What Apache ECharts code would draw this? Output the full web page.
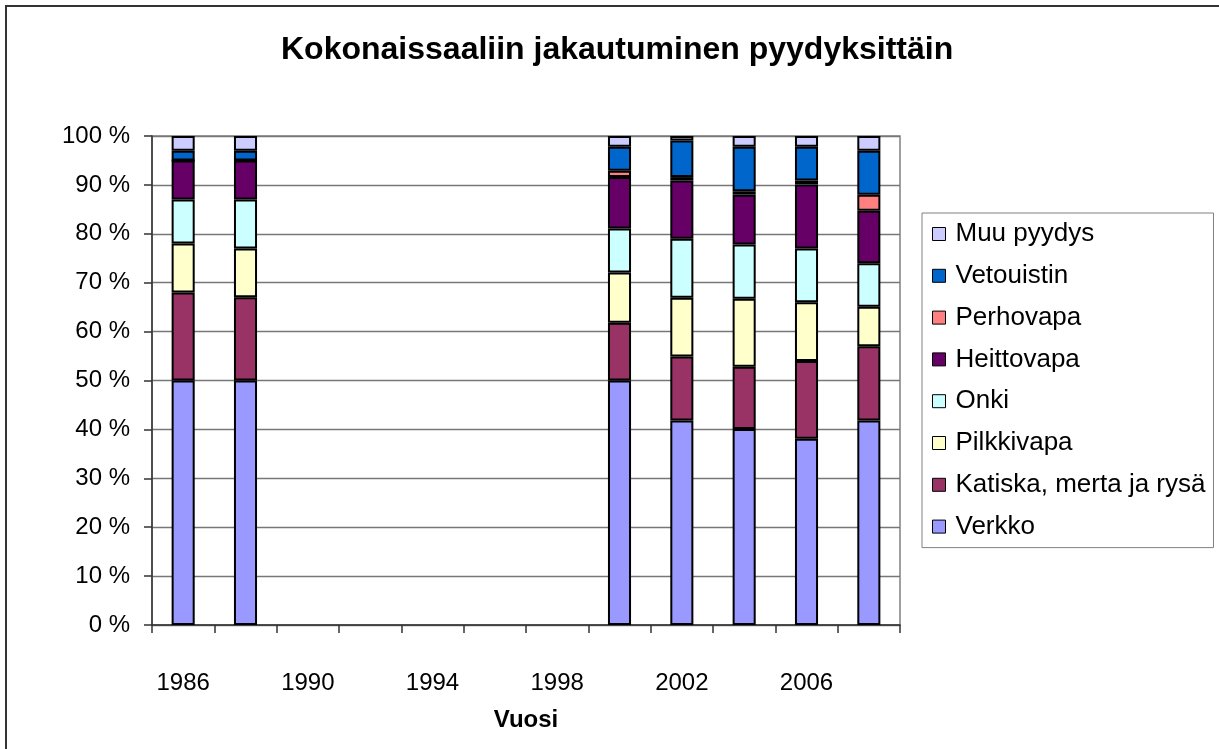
<!DOCTYPE html>
<html>
<head>
<meta charset="utf-8">
<title>Kokonaissaaliin jakautuminen pyydyksittäin</title>
<script src="https://cdn.jsdelivr.net/npm/echarts@6/dist/echarts.min.js"></script>
<style>
  html, body { margin: 0; padding: 0; background: #fff; }
  #main { width: 1219px; height: 749px; }
</style>
</head>
<body>
<div id="main"></div>
<script>
// vuodet (joka toinen vuosi), puuttuvat vuodet = null
var years = ['1986', '1988', '1990', '1992', '1994', '1996', '1998', '2000', '2002', '2004', '2006', '2008'];

var verkko     = [50, 50, null, null, null, null, null, 50, 41.8, 40.1, 38.1, 41.8];
var katiska    = [18, 17, null, null, null, null, null, 11.8, 13.1, 12.7, 15.9, 15.2];
var pilkkivapa = [10, 10, null, null, null, null, null, 10.3, 12.0, 13.9, 12.0, 8.1];
var onki       = [9, 10, null, null, null, null, null, 9.0, 12.1, 11.1, 11.0, 8.9];
var heittovapa = [8, 8, null, null, null, null, null, 10.5, 11.9, 10.2, 13.1, 10.7];
var perhovapa  = [0, 0, null, null, null, null, null, 1.3, 0.7, 0.7, 0.8, 3.3];
var vetouistin = [2, 2, null, null, null, null, null, 4.9, 7.5, 9.1, 6.9, 9.0];
var muu        = [3, 3, null, null, null, null, null, 2.2, 0.9, 2.2, 2.2, 3.0];

var names = ['Verkko', 'Katiska, merta ja rysä', 'Pilkkivapa', 'Onki', 'Heittovapa', 'Perhovapa', 'Vetouistin', 'Muu pyydys'];
var values = [verkko, katiska, pilkkivapa, onki, heittovapa, perhovapa, vetouistin, muu];
var colors = ['#9999FF', '#993366', '#FFFFCC', '#CCFFFF', '#660066', '#FF8080', '#0066CC', '#CCCCFF'];

var yTicks = [0, 10, 20, 30, 40, 50, 60, 70, 80, 90, 100];

var font = '"Liberation Sans", Arial, sans-serif';

var chart = echarts.init(document.getElementById('main'));

var series = names.map(function (n, i) {
    return {
        name: n,
        type: 'bar',
        stack: 'total',
        barWidth: '37%',
        data: values[i],
        itemStyle: {
            color: colors[i],
            borderColor: '#000',
            borderWidth: 2
        }
    };
});

var option = {
    animation: false,
    backgroundColor: '#fff',
    textStyle: { fontFamily: font, color: '#000' },
    title: {
        text: 'Kokonaissaaliin jakautuminen pyydyksittäin',
        left: 281,
        top: 34,
        padding: 0,
        textStyle: { fontFamily: font, fontSize: 32, fontWeight: 'bold', color: '#000' }
    },
    legend: {
        orient: 'vertical',
        left: 922,
        top: 213,
        padding: [8, 8, 8, 10],
        borderColor: '#808080',
        borderWidth: 1,
        icon: 'rect',
        itemWidth: 13,
        itemHeight: 13,
        itemGap: 15.8,
        itemStyle: { borderColor: '#000', borderWidth: 1 },
        data: names.slice().reverse(),
        textStyle: {
            fontFamily: font,
            fontSize: 26,
            lineHeight: 25,
            color: '#000',
            padding: [0, 0, 0, 5]
        }
    },
    graphic: [{
        type: 'rect',
        shape: { x: 6, y: 6, width: 1300, height: 900 },
        style: { fill: 'none', stroke: '#333', lineWidth: 2 },
        silent: true
    }],
    grid: {
        left: 152,
        right: 319,
        top: 136,
        bottom: 124,
        show: true,
        borderColor: '#808080',
        borderWidth: 1.5
    },
    xAxis: {
        type: 'category',
        data: years,
        name: 'Vuosi',
        nameLocation: 'middle',
        nameGap: 83,
        nameTextStyle: { fontFamily: font, fontSize: 24, fontWeight: 'bold', color: '#000' },
        axisLine: { lineStyle: { color: '#333', width: 1.5 } },
        axisTick: { show: true, interval: 0, length: 8, lineStyle: { color: '#333', width: 1.5 } },
        axisLabel: { interval: 1, margin: 46, fontSize: 24, color: '#000', fontFamily: font },
        splitLine: { show: false }
    },
    yAxis: {
        type: 'value',
        min: yTicks[0],
        max: yTicks[yTicks.length - 1],
        interval: 10,
        axisLine: { show: true, lineStyle: { color: '#333', width: 1.5 } },
        axisTick: { show: true, length: 8, lineStyle: { color: '#333', width: 1.5 } },
        axisLabel: { margin: 22, fontSize: 24, color: '#000', fontFamily: font, formatter: '{value} %' },
        splitLine: { show: true, lineStyle: { color: '#777', width: 1.3 } }
    },
    series: series
};

chart.setOption(option);
</script>
</body>
</html>
